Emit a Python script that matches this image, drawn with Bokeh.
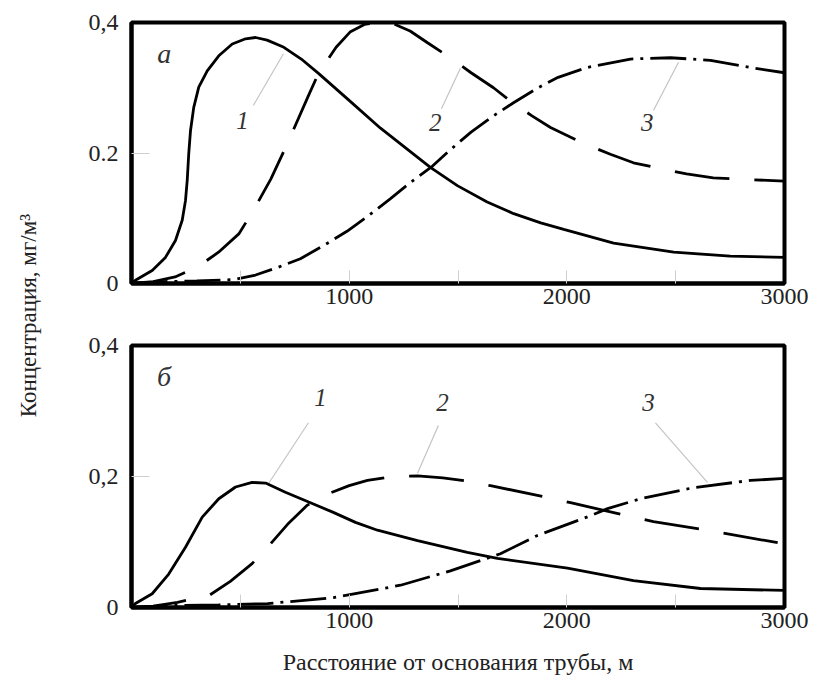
from bokeh.plotting import figure
from bokeh.layouts import row, column
from bokeh.models import Range1d, FixedTicker
from bokeh.core.properties import value
from bokeh.embed import file_html
from bokeh.resources import INLINE

# ---------------- data ----------------
# panel "а"
a_x1 = [0, 18, 95, 156, 202, 233, 248, 256, 263, 271, 286, 309, 348, 401, 463, 524, 570, 623, 700,
        780, 859, 992, 1144, 1373, 1497, 1634, 1756, 1880, 1986, 2215, 2491, 2751, 3000]
a_y1 = [0, 0.005, 0.020, 0.040, 0.066, 0.097, 0.127, 0.158, 0.199, 0.234, 0.270, 0.301, 0.326,
        0.349, 0.367, 0.375, 0.377, 0.373, 0.362, 0.344, 0.322, 0.283, 0.238, 0.178, 0.150, 0.125,
        0.107, 0.093, 0.083, 0.062, 0.048, 0.042, 0.040]
a_x2 = [0, 100, 200, 302, 400, 493, 560, 640, 717, 813, 859, 940, 1006, 1070, 1130, 1203, 1280,
        1360, 1465, 1560, 1663, 1755, 1840, 1925, 2076, 2200, 2306, 2430, 2550, 2673, 2850, 3000]
a_y2 = [0, 0.003, 0.010, 0.025, 0.048, 0.076, 0.112, 0.160, 0.215, 0.288, 0.322, 0.362, 0.386,
        0.397, 0.400, 0.398, 0.387, 0.369, 0.346, 0.323, 0.300, 0.276, 0.257, 0.239, 0.215, 0.198,
        0.185, 0.176, 0.168, 0.162, 0.159, 0.157]
a_x3 = [0, 150, 300, 469, 570, 671, 776, 882, 990, 1089, 1190, 1282, 1383, 1465, 1560, 1663, 1755,
        1863, 1960, 2093, 2292, 2476, 2660, 2843, 3000]
a_y3 = [0, 0.003, 0.004, 0.006, 0.013, 0.0245, 0.038, 0.058, 0.080, 0.104, 0.130, 0.155, 0.180,
        0.205, 0.232, 0.257, 0.277, 0.299, 0.316, 0.331, 0.344, 0.346, 0.342, 0.331, 0.323]

# panel "б"
b_x1 = [0, 18, 95, 171, 248, 325, 401, 478, 554, 616, 707, 814, 922, 1029, 1130, 1314, 1543, 1681,
        2003, 2306, 2614, 3000]
b_y1 = [0, 0.006, 0.021, 0.051, 0.092, 0.138, 0.166, 0.184, 0.191, 0.190, 0.176, 0.161, 0.146,
        0.130, 0.118, 0.102, 0.084, 0.075, 0.060, 0.041, 0.029, 0.026]
b_x2 = [0, 100, 211, 355, 454, 554, 638, 717, 807, 906, 1000, 1084, 1204, 1314, 1430, 1543, 1649,
        1911, 2017, 2278, 2398, 2646, 3000]
b_y2 = [0, 0.002, 0.008, 0.018, 0.040, 0.067, 0.097, 0.127, 0.156, 0.174, 0.186, 0.194, 0.200,
        0.201, 0.198, 0.193, 0.186, 0.168, 0.160, 0.140, 0.131, 0.118, 0.097]
b_x3 = [0, 165, 400, 625, 928, 1236, 1465, 1695, 1865, 2108, 2187, 2338, 2582, 2843, 3000]
b_y3 = [0, 0.003, 0.004, 0.006, 0.015, 0.034, 0.056, 0.082, 0.110, 0.140, 0.151, 0.166, 0.183,
        0.194, 0.197]

x_ticks = [1000, 2000, 3000]
x_minor = [500, 1000, 1500, 2000, 2500]
y_ticks = [0, 0.2, 0.4]
a_y_labels = {0: "0", 0.2: "0.2", 0.4: "0,4"}
b_y_labels = {0: "0", 0.2: "0,2", 0.4: "0,4"}
curve_names = ["1", "2", "3"]
panel_names = ["а", "б"]
y_title = "Концентрация, мг/м³"
x_title = "Расстояние от основания трубы, м"

# label anchors (data coords): text position, leader line start/end
a_lab_x = [510, 1396, 2370]
a_lab_y = [0.250, 0.247, 0.247]
a_lead = [((560, 0.273), (698, 0.352)), ((1424, 0.268), (1511, 0.330)), ((2398, 0.265), (2513, 0.339))]
b_lab_x = [868, 1429, 2375]
b_lab_y = [0.321, 0.313, 0.313]
b_lead = [((813, 0.282), (629, 0.189)), ((1410, 0.278), (1314, 0.205)), ((2407, 0.282), (2646, 0.191))]

FONT = "Liberation Serif"


def make_panel(height, top_border, bottom_border, xs, ys, ylabels, pname, lab_x, lab_y, leads, with_title):
    p = figure(width=751, height=height, x_range=Range1d(0, 3000), y_range=Range1d(0, 0.4),
               toolbar_location=None, output_backend="svg",
               min_border_left=73, min_border_right=25,
               min_border_top=top_border, min_border_bottom=bottom_border)
    p.grid.visible = False
    p.background_fill_color = "white"
    p.border_fill_color = "white"
    p.outline_line_color = "black"
    p.outline_line_width = 4

    for ax in (p.xaxis[0], p.yaxis[0]):
        ax.axis_line_color = "black"
        ax.axis_line_width = 4
        ax.major_tick_in = 0
        ax.major_tick_out = 0
        ax.minor_tick_out = 0
        ax.minor_tick_line_color = "#cfcfcf"
        ax.minor_tick_line_width = 1
        ax.major_label_text_font = FONT
        ax.major_label_text_font_size = "24px"
        ax.major_label_text_color = "#222222"

    p.xaxis.ticker = FixedTicker(ticks=x_ticks, minor_ticks=x_minor)
    p.xaxis.minor_tick_in = 13
    p.xaxis.major_label_standoff = 5
    p.yaxis.ticker = FixedTicker(ticks=y_ticks, minor_ticks=[0.2])
    p.yaxis.minor_tick_in = 18
    p.yaxis.major_label_standoff = 13
    p.yaxis.major_label_overrides = ylabels

    if with_title:
        p.xaxis.axis_label = x_title
        p.xaxis.axis_label_text_font = FONT
        p.xaxis.axis_label_text_font_style = "normal"
        p.xaxis.axis_label_text_font_size = "24px"
        p.xaxis.axis_label_text_color = "#222222"
        p.xaxis.axis_label_standoff = 18

    # leader lines
    p.segment(x0=[l[0][0] for l in leads], y0=[l[0][1] for l in leads],
              x1=[l[1][0] for l in leads], y1=[l[1][1] for l in leads],
              line_color="#c4c4c4", line_width=1.2)

    p.line(xs[0], ys[0], line_color="black", line_width=2.8)
    p.line(xs[1], ys[1], line_color="black", line_width=2.8, line_dash="55 25")
    p.line(xs[2], ys[2], line_color="black", line_width=2.8, line_dash="36 7 3 7")

    p.text(x=lab_x, y=lab_y, text=curve_names, text_font=value(FONT), text_font_style="italic",
           text_font_size="25px", text_align="center", text_baseline="middle", text_color="#333333")
    p.text(x=[150], y=[0.353], text=[pname], text_font=value(FONT), text_font_style="italic",
           text_font_size="28px", text_align="center", text_baseline="middle", text_color="#333333")
    return p


p_top = make_panel(325, 22, 42, [a_x1, a_x2, a_x3], [a_y1, a_y2, a_y3], a_y_labels, panel_names[0],
                   a_lab_x, a_lab_y, a_lead, False)
p_bot = make_panel(357, 20, 75, [b_x1, b_x2, b_x3], [b_y1, b_y2, b_y3], b_y_labels, panel_names[1],
                   b_lab_x, b_lab_y, b_lead, True)

p_y = figure(width=58, height=682, x_range=Range1d(0, 1), y_range=Range1d(0, 1),
             toolbar_location=None, output_backend="svg", x_axis_type=None, y_axis_type=None,
             min_border=0)
p_y.grid.visible = False
p_y.outline_line_color = None
p_y.text(x=[28 / 58], y=[1 - 315 / 682], text=[y_title], angle=1.5707963, text_font=value(FONT),
         text_font_size="23px", text_align="center", text_baseline="middle", text_color="#222222")

layout = row(p_y, column(p_top, p_bot))

open("out.html", "w").write(file_html(layout, INLINE))
